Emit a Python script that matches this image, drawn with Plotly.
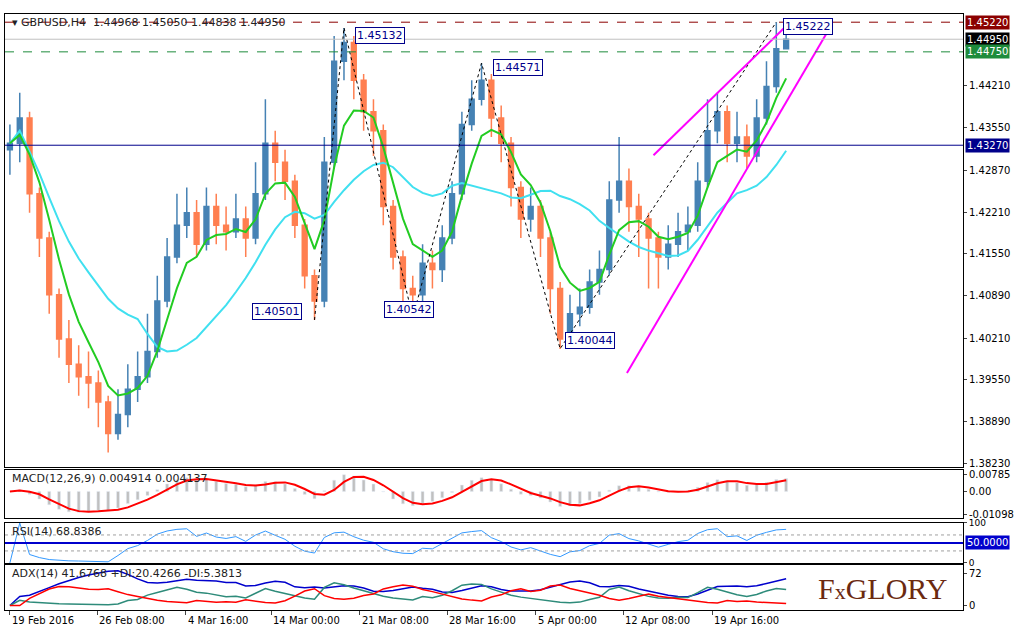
import plotly.graph_objects as go
import pandas as pd
import numpy as np

# H4 bars (coarsened)
close = [1.4330, 1.4370, 1.4250, 1.4180, 1.4090, 1.4020, 1.3980, 1.3960, 1.3950, 1.3920,
         1.3870, 1.3900, 1.3940, 1.3960, 1.4000, 1.4080, 1.4150, 1.4200, 1.4220, 1.4170,
         1.4230, 1.4200, 1.4190, 1.4210, 1.4180, 1.4250, 1.4330, 1.4300, 1.4270, 1.4200,
         1.4120, 1.4080, 1.4300, 1.4460, 1.4490, 1.4430, 1.4380, 1.4350, 1.4230, 1.4150,
         1.4100, 1.4090, 1.4140, 1.4130, 1.4180, 1.4250, 1.4360, 1.4400, 1.4430, 1.4370,
         1.4330, 1.4260, 1.4210, 1.4230, 1.4180, 1.4100, 1.4020, 1.4060, 1.4070, 1.4110,
         1.4130, 1.4240, 1.4270, 1.4230, 1.4210, 1.4180, 1.4150, 1.4170, 1.4190, 1.4200,
         1.4270, 1.4350, 1.4380, 1.4330, 1.4340, 1.4310, 1.4370, 1.4420, 1.4480, 1.4495]
high = [1.4360, 1.4410, 1.4380, 1.4260, 1.4190, 1.4100, 1.4050, 1.4010, 1.4000, 1.3970,
        1.3930, 1.3940, 1.3980, 1.4000, 1.4060, 1.4120, 1.4180, 1.4250, 1.4260, 1.4240,
        1.4260, 1.4250, 1.4230, 1.4250, 1.4230, 1.4300, 1.4400, 1.4350, 1.4320, 1.4280,
        1.4210, 1.4130, 1.4340, 1.4500, 1.4513, 1.4500, 1.4440, 1.4400, 1.4360, 1.4240,
        1.4160, 1.4120, 1.4170, 1.4160, 1.4200, 1.4270, 1.4380, 1.4430, 1.4457, 1.4440,
        1.4390, 1.4340, 1.4270, 1.4260, 1.4240, 1.4190, 1.4110, 1.4090, 1.4100, 1.4130,
        1.4160, 1.4270, 1.4340, 1.4290, 1.4250, 1.4220, 1.4190, 1.4200, 1.4220, 1.4230,
        1.4300, 1.4400, 1.4410, 1.4390, 1.4380, 1.4360, 1.4400, 1.4460, 1.4522, 1.4505]
low = [1.4280, 1.4300, 1.4220, 1.4150, 1.4060, 1.3990, 1.3950, 1.3930, 1.3910, 1.3880,
       1.3840, 1.3860, 1.3880, 1.3920, 1.3950, 1.3990, 1.4070, 1.4140, 1.4180, 1.4150,
       1.4160, 1.4170, 1.4160, 1.4180, 1.4150, 1.4170, 1.4240, 1.4270, 1.4240, 1.4180,
       1.4100, 1.4050, 1.4070, 1.4290, 1.4430, 1.4400, 1.4350, 1.4310, 1.4200, 1.4130,
       1.4070, 1.4054, 1.4080, 1.4100, 1.4110, 1.4170, 1.4240, 1.4350, 1.4390, 1.4340,
       1.4300, 1.4230, 1.4180, 1.4190, 1.4150, 1.4060, 1.4004, 1.4010, 1.4040, 1.4060,
       1.4090, 1.4120, 1.4220, 1.4190, 1.4150, 1.4100, 1.4100, 1.4130, 1.4150, 1.4160,
       1.4190, 1.4260, 1.4330, 1.4300, 1.4300, 1.4290, 1.4300, 1.4360, 1.4410, 1.4484]
first_open = 1.4320

tick_pos = [0, 8.9, 17.9, 26.6, 35.6, 44.5, 53.5, 62.4, 71.5]
tick_text = ["19 Feb 2016", "26 Feb 08:00", "4 Mar 16:00", "14 Mar 00:00", "21 Mar 08:00",
             "28 Mar 16:00", "5 Apr 00:00", "12 Apr 08:00", "19 Apr 16:00"]
price_ticks = [1.44210, 1.43550, 1.42870, 1.42210, 1.41550, 1.40890, 1.40210,
               1.39550, 1.38890, 1.38230]

# swing labels (bar index, price)
swing_idx = [31, 34, 41, 48, 56, 78]
swing_px = [1.40501, 1.45132, 1.40542, 1.44571, 1.40044, 1.45222]
# channel lines drawn on chart: (x0, y0, x1, y1)
channel_up = [65.5, 1.4311, 79.6, 1.4525]
channel_dn = [62.8, 1.3966, 83.6, 1.4517]

levels = {"1.45220": (1.45220, "#8B0000"), "1.44950": (1.44950, "#000000"),
          "1.44750": (1.44750, "#1E8C3C"), "1.43270": (1.43270, "#00008B")}

c = pd.Series(close)
h = pd.Series(high)
l = pd.Series(low)
o = pd.Series([first_open] + close[:-1])
x = list(range(len(close)))

ma_fast = c.ewm(span=5, adjust=False).mean()
ma_slow = c.rolling(14, min_periods=1).mean()
macd = c.ewm(span=4, adjust=False).mean() - c.ewm(span=9, adjust=False).mean()
signal = macd.rolling(3, min_periods=1).mean()
delta = c.diff().fillna(0)
up = delta.clip(lower=0).ewm(alpha=1 / 5, adjust=False).mean()
dn = (-delta.clip(upper=0)).ewm(alpha=1 / 5, adjust=False).mean()
rsi = 100 - 100 / (1 + up / dn.replace(0, 1e-9))
upm = h.diff().fillna(0)
dnm = (-l.diff()).fillna(0)
pdm = np.where((upm > dnm) & (upm > 0), upm, 0)
mdm = np.where((dnm > upm) & (dnm > 0), dnm, 0)
tr = pd.concat([h - l, (h - c.shift()).abs(), (l - c.shift()).abs()], axis=1).max(axis=1)
atr = tr.ewm(alpha=1 / 5, adjust=False).mean()
pdi = 100 * pd.Series(pdm).ewm(alpha=1 / 5, adjust=False).mean() / atr
mdi = 100 * pd.Series(mdm).ewm(alpha=1 / 5, adjust=False).mean() / atr
dx = 100 * (pdi - mdi).abs() / (pdi + mdi).replace(0, 1e-9)
adx = dx.ewm(alpha=1 / 5, adjust=False).mean()

fig = go.Figure()
fig.add_trace(go.Candlestick(x=x, open=o, high=h, low=l, close=c,
                             increasing=dict(line=dict(color="#4682B4", width=1.5), fillcolor="#4682B4"),
                             decreasing=dict(line=dict(color="#FF7F50", width=1.5), fillcolor="#FF7F50"),
                             whiskerwidth=0, showlegend=False))
fig.add_trace(go.Scatter(x=x, y=ma_slow, mode="lines", line=dict(color="#40E0F0", width=2)))
fig.add_trace(go.Scatter(x=x, y=ma_fast, mode="lines", line=dict(color="#22CC22", width=2)))
fig.add_trace(go.Scatter(x=swing_idx, y=swing_px, mode="lines",
                         line=dict(color="black", width=1, dash="dot")))
for ch in (channel_up, channel_dn):
    fig.add_trace(go.Scatter(x=[ch[0], ch[2]], y=[ch[1], ch[3]], mode="lines",
                             line=dict(color="#FF00FF", width=2)))

fig.add_trace(go.Bar(x=x, y=macd, marker_color="#C0C0C0", width=0.3, xaxis="x2", yaxis="y2"))
fig.add_trace(go.Scatter(x=x, y=signal, mode="lines", line=dict(color="red", width=2),
                         xaxis="x2", yaxis="y2"))
fig.add_trace(go.Scatter(x=x, y=rsi, mode="lines", line=dict(color="#3399FF", width=1),
                         xaxis="x3", yaxis="y3"))
fig.add_trace(go.Scatter(x=x, y=adx, mode="lines", line=dict(color="#0000CC", width=1.5),
                         xaxis="x4", yaxis="y4"))
fig.add_trace(go.Scatter(x=x, y=pdi, mode="lines", line=dict(color="#2E8B7A", width=1.5),
                         xaxis="x4", yaxis="y4"))
fig.add_trace(go.Scatter(x=x, y=mdi, mode="lines", line=dict(color="red", width=1.5),
                         xaxis="x4", yaxis="y4"))

xr = [-0.5, 97]
ax = dict(range=xr, showgrid=False, zeroline=False, showline=True, mirror=True, automargin=False,
          linecolor="black", ticks="", showticklabels=False, rangeslider=dict(visible=False))
ay = dict(side="right", showgrid=False, zeroline=False, showline=True, mirror=True, automargin=False,
          linecolor="black", ticks="outside", ticklen=3, tickfont=dict(size=10, color="black"))

shapes = []
for name, (v, col) in levels.items():
    dash = "solid" if name in ("1.43270", "1.44950") else "dash"
    lc = "#C0C0C0" if name == "1.44950" else col
    shapes.append(dict(type="line", xref="paper", x0=0, x1=1, yref="y", y0=v, y1=v,
                       line=dict(color=lc, width=1, dash=dash)))
for yv in (70, 30):
    shapes.append(dict(type="line", xref="x3", x0=xr[0], x1=xr[1], yref="y3", y0=yv, y1=yv,
                       line=dict(color="#A0A0A0", width=1, dash="dot")))
shapes.append(dict(type="line", xref="x3", x0=xr[0], x1=xr[1], yref="y3", y0=50, y1=50,
                   line=dict(color="#0000CC", width=2)))

ann = []
for name, (v, col) in levels.items():
    ann.append(dict(x=1.002, xref="paper", y=v, yref="y", text=name, showarrow=False,
                    xanchor="left", bgcolor=col, font=dict(color="white", size=10)))
ann.append(dict(x=1.002, xref="paper", y=50, yref="y3", text="50.0000", showarrow=False,
                xanchor="left", bgcolor="#0000CC", font=dict(color="white", size=10)))
offs = [(-38, 8), (36, -8), (-4, 8), (36, -4), (30, 8), (32, -4)]
for i, p, (dx_, dy_) in zip(swing_idx, swing_px, offs):
    ann.append(dict(x=i, y=p, xref="x", yref="y", text=f"{p:.5f}", showarrow=False,
                    xshift=dx_, yshift=dy_, bgcolor="white", bordercolor="#00008B",
                    borderwidth=1, borderpad=1, font=dict(color="#00008B", size=11)))
for tp, tt in zip(tick_pos, tick_text):
    ann.append(dict(x=tp, xref="x4", y=0, yref="paper", yanchor="top", xanchor="left",
                    yshift=-3, showarrow=False, text=tt, font=dict(size=10, color="black")))
ann += [
    dict(x=0.005, y=1.0, xref="paper", yref="paper", yanchor="top", xanchor="left", showarrow=False,
         text="▾ GBPUSD,H4  1.44968 1.45050 1.44838 1.44950", font=dict(size=11, color="#222")),
    dict(x=0.005, y=0.235, xref="paper", yref="paper", yanchor="top", xanchor="left", showarrow=False,
         text="MACD(12,26,9) 0.004914 0.004137", font=dict(size=11, color="#222")),
    dict(x=0.005, y=0.146, xref="paper", yref="paper", yanchor="top", xanchor="left", showarrow=False,
         text="RSI(14) 68.8386", font=dict(size=11, color="#222")),
    dict(x=0.005, y=0.0755, xref="paper", yref="paper", yanchor="top", xanchor="left", showarrow=False,
         text="ADX(14) 41.6768 +DI:20.4266 -DI:5.3813", font=dict(size=11, color="#222")),
    dict(x=0.985, y=0.005, xref="paper", yref="paper", yanchor="bottom", xanchor="right", showarrow=False,
         text="F<span style='font-size:22px'>x</span>GLORY", font=dict(family="Liberation Serif", size=30, color="#6B2A10")),
]

fig.update_layout(
    width=1024, height=636, margin=dict(l=5, r=61, t=14, b=26, autoexpand=False),
    paper_bgcolor="white", plot_bgcolor="white", showlegend=False,
    font=dict(family="DejaVu Sans", size=10, color="black"),
    xaxis=dict(ax, domain=[0, 1], anchor="y"),
    yaxis=dict(ay, domain=[0.24, 1], range=[1.3817, 1.4535], tickvals=price_ticks,
               tickformat=".5f"),
    xaxis2=dict(ax, anchor="y2"), yaxis2=dict(ay, domain=[0.154, 0.235], range=[-0.0125, 0.010],
                                             tickvals=[0.00785, 0, -0.010984],
                                             ticktext=["0.00785", "0.00", "-0.01098"]),
    xaxis3=dict(ax, anchor="y3"), yaxis3=dict(ay, domain=[0.079, 0.146], range=[0, 100],
                                             tickvals=[100, 0], ticktext=["100", "0"],
                                             tickfont=dict(size=9)),
    xaxis4=dict(ax, anchor="y4", tickvals=tick_pos, ticks="outside", ticklen=4),
    yaxis4=dict(ay, domain=[0, 0.0755], range=[-10, 90], tickvals=[72, 0]),
    shapes=shapes, annotations=ann, bargap=0.3,
)
fig.write_html("out.html", config={"displayModeBar": False},
               post_script="document.body.style.margin='0';")
